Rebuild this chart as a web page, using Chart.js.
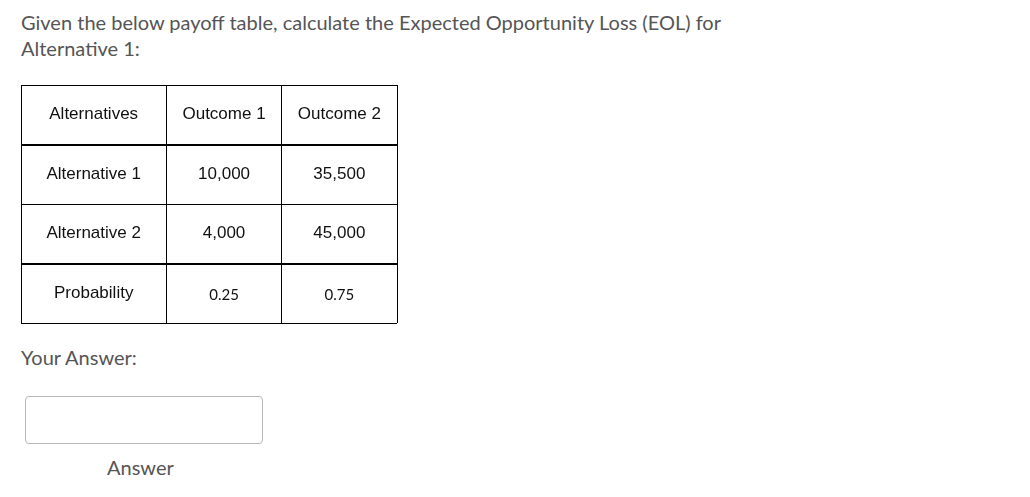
<!DOCTYPE html>
<html>
<head>
<meta charset="utf-8">
<script src="https://cdn.jsdelivr.net/npm/chart.js@4"></script>
<style>
  body { margin: 0; background: #fff; width: 1030px; height: 497px; overflow: hidden; font-family: Lato, sans-serif; }
  .q { position: absolute; left: 21px; top: 9px; font-size: 20px; line-height: 26px; color: #555; }
  .ans { position: absolute; left: 21px; top: 345px; font-size: 20px; color: #555; }
  .box { position: absolute; left: 25px; top: 396px; width: 236px; height: 46px; border: 1px solid #b8b8b8; border-radius: 4px; }
  .lbl { position: absolute; left: 107px; top: 455px; font-size: 20px; color: #555; }
  #wrap { position: absolute; left: 20px; top: 84px; width: 378px; height: 240px; }
</style>
</head>
<body>
<div class="q">Given the below payoff table, calculate the Expected Opportunity Loss (EOL) for<br>Alternative 1:</div>
<div id="wrap"><canvas id="tbl"></canvas></div>
<div class="ans">Your Answer:</div>
<div class="box"></div>
<div class="lbl">Answer</div>
<script>
// table content
const headers = ["Alternatives", "Outcome 1", "Outcome 2"];
const rowLabels = ["Alternative 1", "Alternative 2", "Probability"];
const outcome1 = ["10,000", "4,000", "0.25"];
const outcome2 = ["35,500", "45,000", "0.75"];

// layout
const COL_EDGES = [0, 145, 260, 375];
const ROWS = 4;

const cells = [headers, ...rowLabels.map((r, i) => [r, outcome1[i], outcome2[i]])];

const cellText = {
  id: "cellText",
  afterDraw(chart) {
    const { ctx, scales: { x, y } } = chart;
    ctx.save();
    ctx.textAlign = "center";
    ctx.textBaseline = "middle";
    cells.forEach((row, r) => {
      row.forEach((txt, c) => {
        const isProb = r === ROWS - 1 && c > 0;
        ctx.font = isProb ? "15px Lato" : "17px 'Liberation Sans', Arial";
        ctx.fillStyle = "#111";
        const cx = x.getPixelForValue((COL_EDGES[c] + COL_EDGES[c + 1]) / 2);
        const cy = y.getPixelForValue(r + 0.5) + (isProb ? 2 : 0);
        ctx.fillText(txt, cx, cy);
      });
    });
    ctx.restore();
  },
};

new Chart(document.getElementById("tbl"), {
  type: "scatter",
  data: { datasets: [{ data: [] }] },
  options: {
    responsive: true,
    maintainAspectRatio: false,
    animation: false,
    layout: { padding: 1 },
    plugins: { legend: { display: false }, tooltip: { enabled: false } },
    scales: {
      x: {
        type: "linear", min: 0, max: COL_EDGES[3],
        afterBuildTicks: (s) => { s.ticks = COL_EDGES.map((v) => ({ value: v })); },
        ticks: { display: false },
        border: { display: false },
        grid: { color: "#000", lineWidth: 1, drawTicks: false },
      },
      y: {
        type: "linear", min: 0, max: ROWS, reverse: true,
        afterBuildTicks: (s) => { s.ticks = [0, 1, 2, 3, 4].map((v) => ({ value: v })); },
        ticks: { display: false },
        border: { display: false },
        grid: { color: "#000", lineWidth: (c) => (c.index === 1 || c.index === 3 ? 2 : 1), drawTicks: false },
      },
    },
  },
  plugins: [cellText],
});
</script>
</body>
</html>
